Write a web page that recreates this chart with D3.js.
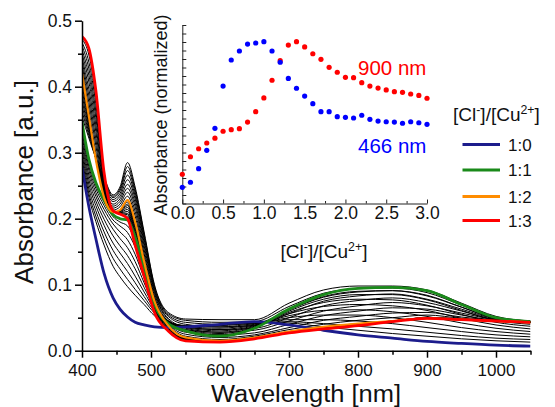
<!DOCTYPE html>
<html><head><meta charset="utf-8">
<script src="https://cdn.jsdelivr.net/npm/d3@7"></script>
<style>
html,body{margin:0;padding:0;background:#fff;}
svg{display:block;font-family:"Liberation Sans",Arial,sans-serif;}
</style></head><body>
<svg id="chart" width="555" height="407"></svg>
<script>
// ---- UV-vis-NIR titration spectra (absorbance vs wavelength) ----
const wavelengths = [400, 410, 420, 432, 445, 455, 466, 477, 490, 505, 525, 550, 600, 650, 700, 750, 800, 850, 900, 950, 1000, 1050];

// highlighted spectra, [Cl-]/[Cu2+] = 1:0, 1:1, 1:2, 1:3
const ratio_1_0 = [0.278, 0.218, 0.170, 0.117, 0.080, 0.063, 0.051, 0.043, 0.039, 0.036, 0.035, 0.036, 0.040, 0.044, 0.039, 0.031, 0.024, 0.019, 0.014, 0.011, 0.0085, 0.007];
const ratio_1_1 = [0.347, 0.290, 0.255, 0.228, 0.206, 0.200, 0.198, 0.172, 0.125, 0.070, 0.041, 0.030, 0.022, 0.034, 0.063, 0.085, 0.0945, 0.096, 0.091, 0.070, 0.050, 0.044];
const ratio_1_2 = [0.420, 0.355, 0.290, 0.232, 0.210, 0.213, 0.228, 0.195, 0.135, 0.075, 0.038, 0.020, 0.015, 0.020, 0.029, 0.036, 0.041, 0.045, 0.049, 0.047, 0.045, 0.043];
const ratio_1_3 = [0.476, 0.458, 0.395, 0.270, 0.212, 0.207, 0.200, 0.160, 0.113, 0.058, 0.030, 0.015, 0.013, 0.018, 0.027, 0.033, 0.038, 0.044, 0.049, 0.047, 0.045, 0.043];

// intermediate titration steps (thin black lines)
const stepsBelow1 = [
  [0.284, 0.232, 0.196, 0.160, 0.128, 0.112, 0.097, 0.084, 0.070, 0.053, 0.042, 0.038, 0.039, 0.043, 0.042, 0.036, 0.031, 0.026, 0.022, 0.018, 0.015, 0.013],
  [0.290, 0.238, 0.204, 0.170, 0.140, 0.124, 0.108, 0.093, 0.076, 0.057, 0.043, 0.038, 0.038, 0.042, 0.044, 0.041, 0.037, 0.033, 0.028, 0.023, 0.019, 0.017],
  [0.297, 0.245, 0.212, 0.180, 0.152, 0.136, 0.120, 0.103, 0.082, 0.060, 0.044, 0.038, 0.036, 0.041, 0.047, 0.047, 0.045, 0.041, 0.035, 0.029, 0.024, 0.021],
  [0.304, 0.252, 0.220, 0.190, 0.163, 0.148, 0.132, 0.113, 0.089, 0.063, 0.045, 0.037, 0.034, 0.040, 0.050, 0.054, 0.054, 0.050, 0.043, 0.035, 0.029, 0.025],
  [0.311, 0.259, 0.227, 0.199, 0.174, 0.159, 0.144, 0.124, 0.096, 0.066, 0.045, 0.036, 0.032, 0.039, 0.053, 0.061, 0.062, 0.059, 0.052, 0.042, 0.034, 0.029],
  [0.318, 0.266, 0.234, 0.207, 0.184, 0.170, 0.156, 0.135, 0.103, 0.068, 0.045, 0.035, 0.030, 0.038, 0.056, 0.067, 0.070, 0.068, 0.061, 0.049, 0.039, 0.033],
  [0.325, 0.273, 0.240, 0.214, 0.192, 0.180, 0.168, 0.146, 0.110, 0.069, 0.044, 0.034, 0.028, 0.037, 0.058, 0.073, 0.078, 0.077, 0.069, 0.055, 0.043, 0.037],
  [0.332, 0.279, 0.246, 0.220, 0.198, 0.189, 0.179, 0.157, 0.116, 0.070, 0.043, 0.032, 0.026, 0.036, 0.060, 0.078, 0.085, 0.085, 0.077, 0.061, 0.046, 0.040],
  [0.340, 0.285, 0.251, 0.225, 0.203, 0.195, 0.189, 0.166, 0.121, 0.070, 0.042, 0.031, 0.024, 0.035, 0.062, 0.082, 0.090, 0.091, 0.084, 0.066, 0.048, 0.042]
];
const stepsBelow2 = [
  [0.355, 0.322, 0.292, 0.262, 0.236, 0.248, 0.285, 0.248, 0.180, 0.100, 0.058, 0.048, 0.047, 0.047, 0.072, 0.092, 0.098, 0.098, 0.092, 0.072, 0.052, 0.045],
  [0.363, 0.326, 0.292, 0.259, 0.234, 0.245, 0.279, 0.244, 0.177, 0.098, 0.056, 0.046, 0.043, 0.044, 0.067, 0.087, 0.094, 0.095, 0.088, 0.069, 0.050, 0.045],
  [0.371, 0.330, 0.292, 0.256, 0.232, 0.242, 0.273, 0.240, 0.173, 0.095, 0.054, 0.043, 0.040, 0.041, 0.062, 0.081, 0.089, 0.091, 0.083, 0.066, 0.049, 0.044],
  [0.379, 0.334, 0.292, 0.253, 0.229, 0.238, 0.266, 0.235, 0.169, 0.093, 0.052, 0.040, 0.036, 0.038, 0.056, 0.075, 0.083, 0.086, 0.078, 0.063, 0.048, 0.044],
  [0.387, 0.338, 0.291, 0.250, 0.226, 0.234, 0.259, 0.230, 0.164, 0.090, 0.049, 0.036, 0.032, 0.034, 0.050, 0.068, 0.076, 0.080, 0.073, 0.060, 0.047, 0.044],
  [0.395, 0.342, 0.291, 0.247, 0.222, 0.230, 0.252, 0.224, 0.159, 0.087, 0.047, 0.032, 0.028, 0.031, 0.045, 0.060, 0.068, 0.073, 0.068, 0.057, 0.047, 0.044],
  [0.403, 0.346, 0.291, 0.243, 0.219, 0.226, 0.246, 0.218, 0.153, 0.083, 0.044, 0.028, 0.024, 0.027, 0.040, 0.053, 0.060, 0.065, 0.063, 0.054, 0.046, 0.044],
  [0.410, 0.350, 0.290, 0.239, 0.216, 0.222, 0.240, 0.211, 0.147, 0.080, 0.042, 0.025, 0.020, 0.024, 0.035, 0.046, 0.052, 0.057, 0.058, 0.051, 0.046, 0.043],
  [0.416, 0.353, 0.290, 0.236, 0.213, 0.218, 0.234, 0.204, 0.141, 0.077, 0.040, 0.022, 0.017, 0.022, 0.032, 0.040, 0.046, 0.050, 0.054, 0.049, 0.045, 0.043]
];
const stepsBelow3 = [
  [0.426, 0.365, 0.300, 0.236, 0.210, 0.212, 0.225, 0.192, 0.133, 0.073, 0.037, 0.020, 0.015, 0.020, 0.029, 0.036, 0.041, 0.045, 0.050, 0.048, 0.045, 0.043],
  [0.432, 0.376, 0.311, 0.240, 0.210, 0.212, 0.222, 0.188, 0.131, 0.072, 0.036, 0.019, 0.015, 0.020, 0.029, 0.035, 0.040, 0.045, 0.050, 0.048, 0.045, 0.043],
  [0.438, 0.386, 0.321, 0.243, 0.211, 0.211, 0.220, 0.185, 0.128, 0.070, 0.036, 0.019, 0.014, 0.019, 0.028, 0.035, 0.040, 0.045, 0.050, 0.048, 0.045, 0.043],
  [0.444, 0.396, 0.332, 0.247, 0.211, 0.211, 0.217, 0.181, 0.126, 0.068, 0.035, 0.018, 0.014, 0.019, 0.028, 0.035, 0.040, 0.045, 0.050, 0.048, 0.045, 0.043],
  [0.450, 0.407, 0.342, 0.251, 0.211, 0.210, 0.214, 0.178, 0.124, 0.067, 0.034, 0.018, 0.014, 0.019, 0.028, 0.034, 0.039, 0.044, 0.049, 0.047, 0.045, 0.043],
  [0.456, 0.417, 0.353, 0.255, 0.211, 0.209, 0.211, 0.174, 0.122, 0.065, 0.033, 0.017, 0.014, 0.019, 0.028, 0.034, 0.039, 0.044, 0.049, 0.047, 0.045, 0.043],
  [0.462, 0.427, 0.363, 0.259, 0.211, 0.209, 0.208, 0.171, 0.120, 0.063, 0.032, 0.017, 0.014, 0.019, 0.028, 0.034, 0.039, 0.044, 0.049, 0.047, 0.045, 0.043],
  [0.467, 0.437, 0.374, 0.262, 0.212, 0.208, 0.206, 0.167, 0.117, 0.061, 0.032, 0.016, 0.013, 0.018, 0.027, 0.033, 0.038, 0.044, 0.049, 0.047, 0.045, 0.043],
  [0.472, 0.448, 0.384, 0.266, 0.212, 0.207, 0.203, 0.164, 0.115, 0.060, 0.031, 0.016, 0.013, 0.018, 0.027, 0.033, 0.038, 0.044, 0.049, 0.047, 0.045, 0.043]
];

const legendLabels = ["1:0", "1:1", "1:2", "1:3"];
const legendColors = ["#1c1c8c", "#1a8a1a", "#ff8c00", "#ff0000"];

const absTicks = [0.0, 0.1, 0.2, 0.3, 0.4, 0.5];
const absMinorTicks = [0.05, 0.15, 0.25, 0.35, 0.45];
const wlTicks = [400, 500, 600, 700, 800, 900, 1000];
const wlMinorTicks = [450, 550, 650, 750, 850, 950, 1050];

// ---- inset: normalized absorbance vs [Cl-]/[Cu2+] ----
const ratioPoints = [0.0, 0.1, 0.2, 0.3, 0.4, 0.5, 0.6, 0.7, 0.8, 0.9, 1.0, 1.1, 1.2, 1.3, 1.4, 1.5, 1.6, 1.7, 1.8, 1.9, 2.0, 2.1, 2.2, 2.3, 2.4, 2.5, 2.6, 2.7, 2.8, 2.9, 3.0];
const band900 = [0.172, 0.275, 0.322, 0.356, 0.384, 0.425, 0.434, 0.440, 0.479, 0.540, 0.621, 0.725, 0.840, 0.932, 0.952, 0.921, 0.881, 0.848, 0.801, 0.772, 0.742, 0.740, 0.711, 0.691, 0.679, 0.668, 0.658, 0.654, 0.644, 0.636, 0.619];
const band466 = [0.095, 0.125, 0.205, 0.313, 0.442, 0.691, 0.844, 0.897, 0.938, 0.944, 0.952, 0.897, 0.831, 0.736, 0.678, 0.632, 0.587, 0.540, 0.540, 0.511, 0.507, 0.503, 0.519, 0.495, 0.485, 0.481, 0.479, 0.472, 0.481, 0.475, 0.466];
const insetTicks = [0.0, 0.5, 1.0, 1.5, 2.0, 2.5, 3.0];

// ---------------------------------------------------------------
const svg = d3.select("#chart");
const FONT = '"Liberation Sans", Arial, sans-serif';

const x = d3.scaleLinear().domain([400, 1050]).range([82, 530.5]);
const y = d3.scaleLinear().domain([0, 0.5]).range([350.7, 20.7]);

const toPoints = vals => wavelengths.map((w, i) => [w, vals[i]]);
const line = d3.line().x(d => x(d[0])).y(d => y(d[1])).curve(d3.curveMonotoneX);

svg.append("clipPath").attr("id", "plotClip")
  .append("rect").attr("x", 82).attr("y", 0).attr("width", 530.5 - 82).attr("height", 352);

const plot = svg.append("g").attr("clip-path", "url(#plotClip)");

const thin = [].concat(stepsBelow1, stepsBelow2, stepsBelow3);
plot.selectAll("path.step").data(thin).join("path")
  .attr("class", "step")
  .attr("d", d => line(toPoints(d)))
  .attr("fill", "none").attr("stroke", "#000").attr("stroke-width", 1);

const highlighted = [ratio_1_0, ratio_1_1, ratio_1_2, ratio_1_3];
plot.selectAll("path.key").data(highlighted).join("path")
  .attr("class", "key")
  .attr("d", d => line(toPoints(d)))
  .attr("fill", "none")
  .attr("stroke", (d, i) => legendColors[i])
  .attr("stroke-width", (d, i) => i === 2 ? 2.2 : 2.8)
  .attr("stroke-linejoin", "round");

// main axes
function styleAxis(g, size) {
  g.attr("font-family", FONT).attr("font-size", size);
  g.selectAll("path.domain").attr("stroke", "#000").attr("stroke-width", 1.5);
  g.selectAll(".tick line").attr("stroke", "#000").attr("stroke-width", 1.5);
  g.selectAll(".tick text").attr("fill", "#111");
}

const yAxis = svg.append("g").attr("transform", "translate(82,0)")
  .call(d3.axisLeft(y).tickValues(absTicks).tickFormat(d3.format(".1f")).tickSize(7).tickSizeOuter(0).tickPadding(3));
styleAxis(yAxis, 17.5);
svg.append("g").attr("transform", "translate(82,0)")
  .call(d3.axisLeft(y).tickValues(absMinorTicks).tickFormat("").tickSize(4).tickSizeOuter(0))
  .call(g => { g.select("path.domain").remove(); g.selectAll("line").attr("stroke", "#000").attr("stroke-width", 1.5); });

const xAxis = svg.append("g").attr("transform", "translate(0,350.7)")
  .call(d3.axisBottom(x).tickValues(wlTicks).tickFormat(d3.format("d")).tickSize(7).tickSizeOuter(0).tickPadding(6));
styleAxis(xAxis, 17);
svg.append("g").attr("transform", "translate(0,350.7)")
  .call(d3.axisBottom(x).tickValues(wlMinorTicks).tickFormat("").tickSize(4).tickSizeOuter(0))
  .call(g => { g.select("path.domain").remove(); g.selectAll("line").attr("stroke", "#000").attr("stroke-width", 1.5); });

svg.append("text")
  .attr("transform", "translate(33,182) rotate(-90)")
  .attr("text-anchor", "middle").attr("font-family", FONT).attr("font-size", 26).attr("fill", "#111")
  .text("Absorbance [a.u.]");
svg.append("text")
  .attr("x", 306).attr("y", 402)
  .attr("text-anchor", "middle").attr("font-family", FONT).attr("font-size", 23.5).attr("fill", "#111")
  .attr("textLength", 190).attr("lengthAdjust", "spacingAndGlyphs")
  .text("Wavelength [nm]");

// ---- inset ----
const ix = d3.scaleLinear().domain([0, 3]).range([182.3, 427]);
const iy = d3.scaleLinear().domain([0, 1.05]).range([203.5, 25]);

const insetYAxis = svg.append("g").attr("transform", "translate(182.3,0)")
  .call(d3.axisLeft(iy).tickValues(d3.range(0, 1.051, 0.05)).tickFormat("").tickSize(-4).tickSizeOuter(0));
insetYAxis.selectAll("path.domain, line").attr("stroke", "#222").attr("stroke-width", 1);

const insetXAxis = svg.append("g").attr("transform", "translate(0,203.5)")
  .call(d3.axisBottom(ix).tickValues(insetTicks).tickFormat(d3.format(".1f")).tickSize(-4).tickSizeOuter(0).tickPadding(3));
insetXAxis.attr("font-family", FONT).attr("font-size", 17.5);
insetXAxis.selectAll("path.domain, line").attr("stroke", "#222").attr("stroke-width", 1);
insetXAxis.selectAll("text").attr("fill", "#111");
svg.append("g").attr("transform", "translate(0,203.5)")
  .call(d3.axisBottom(ix).tickValues([0.25, 0.75, 1.25, 1.75, 2.25, 2.75]).tickFormat("").tickSize(-2.5).tickSizeOuter(0))
  .call(g => { g.select("path.domain").remove(); g.selectAll("line").attr("stroke", "#222"); });

svg.append("g").selectAll("circle").data(ratioPoints).join("circle")
  .attr("cx", d => ix(d)).attr("cy", (d, i) => iy(band900[i])).attr("r", 2.6).attr("fill", "#ff0000");
svg.append("g").selectAll("circle").data(ratioPoints).join("circle")
  .attr("cx", d => ix(d)).attr("cy", (d, i) => iy(band466[i])).attr("r", 2.6).attr("fill", "#0000ff");

svg.append("text").attr("x", 358).attr("y", 75).attr("font-family", FONT).attr("font-size", 20.5)
  .attr("fill", "#ff0000").text("900 nm");
svg.append("text").attr("x", 358).attr("y", 153).attr("font-family", FONT).attr("font-size", 20.5)
  .attr("fill", "#0000ff").text("466 nm");

svg.append("text")
  .attr("transform", "translate(167,115) rotate(-90)")
  .attr("text-anchor", "middle").attr("font-family", FONT).attr("font-size", 18).attr("fill", "#111")
  .text("Absorbance (normalized)");

function ratioLabel(sel) {
  sel.append("tspan").text("[Cl");
  sel.append("tspan").attr("baseline-shift", "super").attr("font-size", "65%").text("-");
  sel.append("tspan").text("]/[Cu");
  sel.append("tspan").attr("baseline-shift", "super").attr("font-size", "65%").text("2+");
  sel.append("tspan").text("]");
}
svg.append("text").attr("x", 324).attr("y", 257.5).attr("text-anchor", "middle")
  .attr("font-family", FONT).attr("font-size", 19).attr("fill", "#111").call(ratioLabel);

// ---- legend ----
svg.append("text").attr("x", 453).attr("y", 121)
  .attr("font-family", FONT).attr("font-size", 19).attr("fill", "#111").call(ratioLabel);
const legendY = [144.5, 170, 196.5, 220.5];
const lg = svg.append("g");
lg.selectAll("line").data(legendLabels).join("line")
  .attr("x1", 462.5).attr("x2", 500).attr("y1", (d, i) => legendY[i]).attr("y2", (d, i) => legendY[i])
  .attr("stroke", (d, i) => legendColors[i]).attr("stroke-width", 2.8);
lg.selectAll("text").data(legendLabels).join("text")
  .attr("x", 508).attr("y", (d, i) => legendY[i] + 6)
  .attr("font-family", FONT).attr("font-size", 17).attr("fill", "#111").text(d => d);
</script></body></html>
